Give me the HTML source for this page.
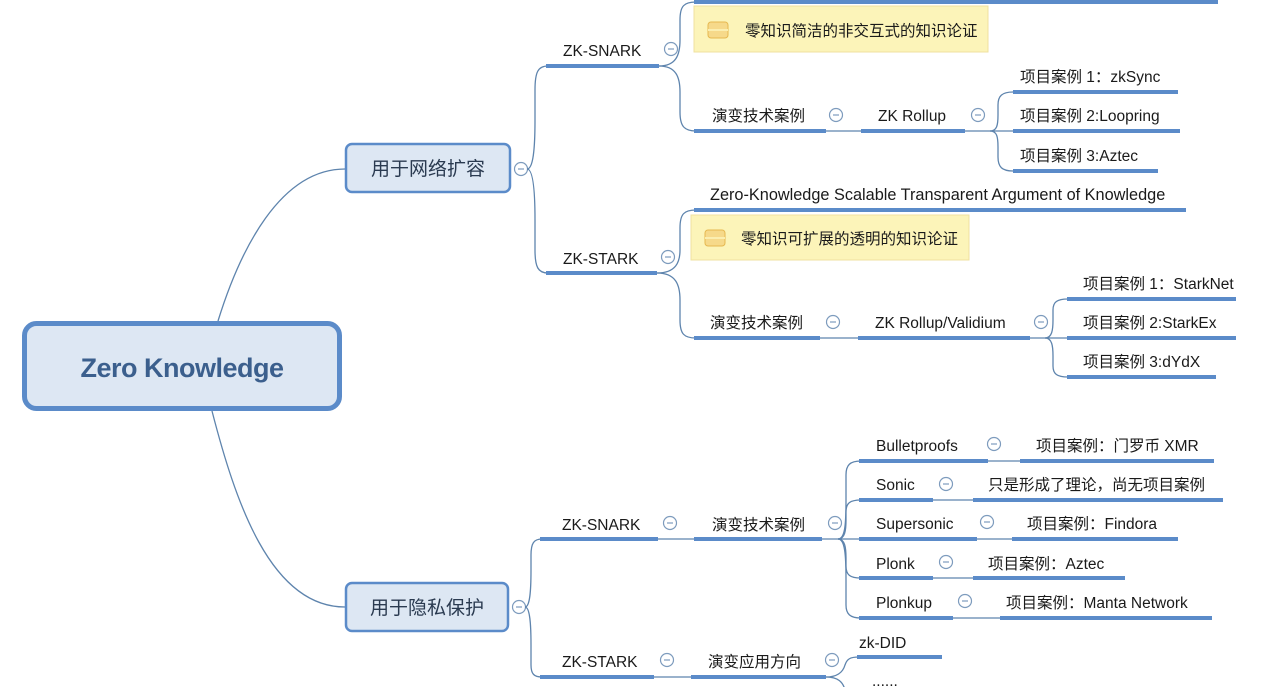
<!DOCTYPE html>
<html><head><meta charset="utf-8"><style>
html,body{margin:0;padding:0;background:#fff;}
svg{display:block;}
text{font-family:"Liberation Sans","Noto Sans CJK SC",sans-serif;font-size:15.5px;fill:#1a1a1a;}
.u{fill:#5b8bc9;}
.c{fill:none;stroke:#5e84ad;stroke-width:1.3;}
</style></head><body>
<svg width="1280" height="687" viewBox="0 0 1280 687" xmlns="http://www.w3.org/2000/svg">
<defs>
<g id="m"><circle cx="0" cy="0" r="6.5" fill="#fff" stroke="#7d9bbd" stroke-width="1.2"/><line x1="-3" y1="0" x2="3" y2="0" stroke="#7d9bbd" stroke-width="1.2"/></g>
<g id="ic"><rect x="-10" y="-8" width="20" height="16" rx="3" fill="#f6d98a" stroke="#e6b850" stroke-width="1"/><line x1="-10" y1="0" x2="10" y2="0" stroke="#fbeeb0" stroke-width="2"/></g>
</defs>

<path class="c" d="M218 321 C240 250 280 169 345 169"/>
<path class="c" d="M212 411 C235 500 270 607 345 607"/>

<rect x="24.5" y="323.5" width="315" height="85" rx="12" fill="#dde7f3" stroke="#5b8bc9" stroke-width="5"/>
<text x="182" y="377" text-anchor="middle" style="font-size:27px;font-weight:bold;fill:#3b5f8d;letter-spacing:-0.5px">Zero Knowledge</text>

<rect x="346" y="144" width="164" height="48" rx="6" fill="#dde7f3" stroke="#5b8bc9" stroke-width="2.5"/>
<text x="428" y="175" text-anchor="middle" style="font-size:19px;fill:#2a3a50">用于网络扩容</text>
<use href="#m" x="521" y="169"/>
<path class="c" d="M527 169 C533 169 535 150 535 120 L535 90 C535 72 538 66 548 66"/>
<path class="c" d="M527 169 C533 169 535 190 535 220 L535 250 C535 267 538 273 548 273"/>

<rect class="u" x="546" y="64" width="113" height="4"/>
<text x="563" y="56">ZK-SNARK</text>
<use href="#m" x="671" y="49"/>
<path class="c" d="M659 66 C676 66 680 55 680 40 L680 20 C680 6 684 2 696 2"/>
<path class="c" d="M659 66 C676 66 680 77 680 92 L680 112 C680 126 684 131 696 131"/>
<rect class="u" x="694" y="0" width="524" height="4"/>
<rect x="694" y="6" width="294" height="46" fill="#fcf4b9" stroke="#efe1a0" stroke-width="1"/>
<use href="#ic" x="718" y="30"/>
<text x="745" y="36">零知识简洁的非交互式的知识论证</text>
<rect class="u" x="694" y="129" width="132" height="4"/>
<text x="712" y="121">演变技术案例</text>
<use href="#m" x="836" y="115"/>
<path class="c" d="M826 131 L861 131"/>
<rect class="u" x="861" y="129" width="104" height="4"/>
<text x="878" y="121">ZK Rollup</text>
<use href="#m" x="978" y="115"/>
<path class="c" d="M965 131 L1013 131"/>
<path class="c" d="M990 131 C997 131 998 125 998 115 L998 105 C998 96 1002 92 1013 92"/>
<path class="c" d="M990 131 C997 131 998 137 998 147 L998 157 C998 167 1002 171 1013 171"/>
<rect class="u" x="1013" y="90" width="165" height="4"/>
<text x="1020" y="82">项目案例 1：zkSync</text>
<rect class="u" x="1013" y="129" width="167" height="4"/>
<text x="1020" y="121">项目案例 2:Loopring</text>
<rect class="u" x="1013" y="169" width="145" height="4"/>
<text x="1020" y="161">项目案例 3:Aztec</text>

<rect class="u" x="546" y="271" width="111" height="4"/>
<text x="563" y="264">ZK-STARK</text>
<use href="#m" x="668" y="257"/>
<path class="c" d="M657 273 C676 273 680 262 680 250 L680 228 C680 214 684 210 696 210"/>
<path class="c" d="M657 273 C676 273 680 285 680 300 L680 320 C680 334 684 338 696 338"/>
<rect class="u" x="694" y="208" width="492" height="4"/>
<text x="710" y="200" style="font-size:16.3px">Zero-Knowledge Scalable Transparent Argument of Knowledge</text>
<rect x="691" y="215" width="278" height="45" fill="#fcf4b9" stroke="#efe1a0" stroke-width="1"/>
<use href="#ic" x="715" y="238"/>
<text x="741" y="244">零知识可扩展的透明的知识论证</text>
<rect class="u" x="694" y="336" width="126" height="4"/>
<text x="710" y="328">演变技术案例</text>
<use href="#m" x="833" y="322"/>
<path class="c" d="M820 338 L858 338"/>
<rect class="u" x="858" y="336" width="172" height="4"/>
<text x="875" y="328">ZK Rollup/Validium</text>
<use href="#m" x="1041" y="322"/>
<path class="c" d="M1030 338 L1067 338"/>
<path class="c" d="M1045 338 C1052 338 1053 330 1053 320 L1053 310 C1053 302 1057 299 1068 299"/>
<path class="c" d="M1045 338 C1052 338 1053 346 1053 356 L1053 366 C1053 374 1057 377 1068 377"/>
<rect class="u" x="1067" y="297" width="169" height="4"/>
<text x="1083" y="289">项目案例 1：StarkNet</text>
<rect class="u" x="1067" y="336" width="169" height="4"/>
<text x="1083" y="328">项目案例 2:StarkEx</text>
<rect class="u" x="1067" y="375" width="149" height="4"/>
<text x="1083" y="367">项目案例 3:dYdX</text>

<rect x="346" y="583" width="162" height="48" rx="6" fill="#dde7f3" stroke="#5b8bc9" stroke-width="2.5"/>
<text x="427" y="614" text-anchor="middle" style="font-size:19px;fill:#2a3a50">用于隐私保护</text>
<use href="#m" x="519" y="607"/>
<path class="c" d="M525 607 C530 607 531 590 531 570 L531 555 C531 543 534 539 542 539"/>
<path class="c" d="M525 607 C530 607 531 625 531 645 L531 665 C531 674 534 677 542 677"/>

<rect class="u" x="540" y="537" width="118" height="4"/>
<text x="562" y="530">ZK-SNARK</text>
<use href="#m" x="670" y="523"/>
<path class="c" d="M658 539 L694 539"/>
<rect class="u" x="694" y="537" width="128" height="4"/>
<text x="712" y="530">演变技术案例</text>
<use href="#m" x="835" y="523"/>
<path class="c" d="M822 539 L859 539"/>
<path class="c" d="M838 539 C845 539 846 525 846 500 L846 475 C846 465 850 461 861 461"/>
<path class="c" d="M838 539 C845 539 846 530 846 520 L846 512 C846 503 850 500 861 500"/>
<path class="c" d="M838 539 C845 539 846 548 846 558 L846 566 C846 575 850 578 861 578"/>
<path class="c" d="M838 539 C845 539 846 555 846 580 L846 605 C846 614 850 618 861 618"/>

<rect class="u" x="859" y="459" width="129" height="4"/>
<text x="876" y="451">Bulletproofs</text>
<use href="#m" x="994" y="444"/>
<path class="c" d="M988 461 L1020 461"/>
<rect class="u" x="1020" y="459" width="194" height="4"/>
<text x="1036" y="451">项目案例：门罗币 XMR</text>

<rect class="u" x="859" y="498" width="74" height="4"/>
<text x="876" y="490">Sonic</text>
<use href="#m" x="946" y="484"/>
<path class="c" d="M933 500 L973 500"/>
<rect class="u" x="973" y="498" width="250" height="4"/>
<text x="988" y="490">只是形成了理论，尚无项目案例</text>

<rect class="u" x="859" y="537" width="118" height="4"/>
<text x="876" y="529">Supersonic</text>
<use href="#m" x="987" y="522"/>
<path class="c" d="M977 539 L1012 539"/>
<rect class="u" x="1012" y="537" width="166" height="4"/>
<text x="1027" y="529">项目案例：Findora</text>

<rect class="u" x="859" y="576" width="74" height="4"/>
<text x="876" y="569">Plonk</text>
<use href="#m" x="946" y="562"/>
<path class="c" d="M933 578 L973 578"/>
<rect class="u" x="973" y="576" width="152" height="4"/>
<text x="988" y="569">项目案例：Aztec</text>

<rect class="u" x="859" y="616" width="94" height="4"/>
<text x="876" y="608">Plonkup</text>
<use href="#m" x="965" y="601"/>
<path class="c" d="M953 618 L1000 618"/>
<rect class="u" x="1000" y="616" width="212" height="4"/>
<text x="1006" y="608">项目案例：Manta Network</text>

<rect class="u" x="540" y="675" width="114" height="4"/>
<text x="562" y="667">ZK-STARK</text>
<use href="#m" x="667" y="660"/>
<path class="c" d="M654 677 L691 677"/>
<rect class="u" x="691" y="675" width="135" height="4"/>
<text x="708" y="667">演变应用方向</text>
<use href="#m" x="832" y="660"/>
<path class="c" d="M826 677 C838 677 843 672 845 665 C847 659 850 657 859 657"/>
<path class="c" d="M826 677 C838 677 843 682 845 690"/>
<rect class="u" x="857" y="655" width="85" height="4"/>
<text x="859" y="648">zk-DID</text>
<text x="872" y="686">......</text>
</svg>
</body></html>
